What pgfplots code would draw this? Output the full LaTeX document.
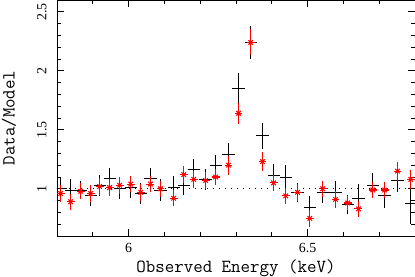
\documentclass[border=0pt]{standalone}
\usepackage{fontspec}
\setmainfont{Liberation Serif}
\usepackage{pgfplots}
\pgfplotsset{compat=1.18}
\usepackage{pgfplotstable}

\pgfplotstableread{
x y ey
5.810 1.00 0.10
5.838 0.99 0.09
5.866 0.99 0.08
5.894 0.94 0.09
5.919 1.03 0.09
5.947 1.09 0.09
5.975 1.00 0.09
6.006 1.01 0.09
6.034 0.96 0.09
6.061 1.09 0.09
6.089 0.99 0.09
6.126 1.01 0.10
6.154 1.03 0.08
6.182 1.16 0.09
6.215 1.08 0.09
6.243 1.20 0.09
6.279 1.29 0.10
6.307 1.85 0.13
6.341 2.24 0.14
6.374 1.45 0.11
6.405 1.11 0.10
6.439 1.10 0.10
6.472 0.97 0.08
6.506 0.84 0.10
6.542 0.97 0.09
6.578 0.97 0.10
6.612 0.87 0.08
6.642 0.92 0.12
6.682 1.03 0.10
6.715 0.94 0.10
6.751 1.07 0.10
6.788 0.88 0.18
}\blackdata

\pgfplotstableread{
x y ey
5.810 0.96 0.07
5.838 0.89 0.07
5.866 0.98 0.07
5.894 0.96 0.07
5.919 1.02 0.07
5.947 1.01 0.07
5.975 1.03 0.07
6.006 1.04 0.07
6.034 0.97 0.07
6.061 1.04 0.07
6.089 1.00 0.07
6.126 0.92 0.07
6.154 1.12 0.07
6.182 1.08 0.07
6.215 1.07 0.07
6.243 1.10 0.07
6.279 1.20 0.08
6.307 1.64 0.09
6.341 2.24 0.11
6.374 1.23 0.08
6.405 1.05 0.07
6.439 0.94 0.07
6.472 0.97 0.07
6.506 0.75 0.07
6.542 1.00 0.07
6.578 0.91 0.07
6.612 0.88 0.06
6.642 0.83 0.07
6.682 0.99 0.07
6.715 0.99 0.07
6.751 1.15 0.08
6.788 1.08 0.08
}\reddata

\begin{document}
\begin{tikzpicture}
\begin{axis}[name=ax, scale only axis, width=358bp, height=236bp,
  xmin=5.8, xmax=6.8, ymin=0.6, ymax=2.6,
  xtick={6,6.5}, xticklabels={6,6.5},
  minor xtick={5.9,6.1,6.2,6.3,6.4,6.6,6.7},
  ytick={1,1.5,2,2.5}, yticklabels={1,1.5,2,2.5},
  minor ytick={0.6,0.7,0.8,0.9,1.1,1.2,1.3,1.4,1.6,1.7,1.8,1.9,2.1,2.2,2.3,2.4},
  tick align=inside, major tick length=7bp, minor tick length=4bp,
  every tick/.style={black, line width=0.8bp},
  axis line style={line width=0.9bp},
  tick label style={font=\fontsize{14}{14}\selectfont},
  /pgf/number format/assume math mode=true,
  xticklabel style={yshift=-4bp},
  yticklabel style={xshift=-7bp, rotate=90, anchor=south},
  xlabel={Observed Energy (keV)},
  ylabel={Data/Model},
  every axis x label/.style={at={(axis description cs:0.5,0)}, anchor=center, yshift=-32bp, font=\ttfamily\fontsize{18.5}{19}\selectfont},
  every axis y label/.style={at={(axis description cs:0,0.5)}, xshift=-48bp, rotate=90, anchor=center, font=\ttfamily\fontsize{18.5}{19}\selectfont},
]
\addplot[black, dash pattern=on 1.2bp off 4.8bp, line width=0.8bp] coordinates {(5.8,1) (6.8,1)};
\addplot[draw=none, mark=none,
  error bars/.cd, x dir=both, x fixed=0.017, y dir=both, y explicit, error mark=none,
  error bar style={solid, draw=black, line width=0.9bp}]
  table[x=x, y=y, y error=ey] {\blackdata};
\addplot[red, only marks, mark=x, mark size=3.2bp, mark options={line width=1.1bp, red},
  error bars/.cd, x dir=both, x fixed=0.011, y dir=both, y explicit, error mark=none,
  error bar style={solid, draw=red, line width=1.1bp}]
  table[x=x, y=y, y error=ey] {\reddata};
\end{axis}
\pgfresetboundingbox
\path (ax.south west) ++(-57bp,-41bp) rectangle (ax.north east);
\end{tikzpicture}
\end{document}
